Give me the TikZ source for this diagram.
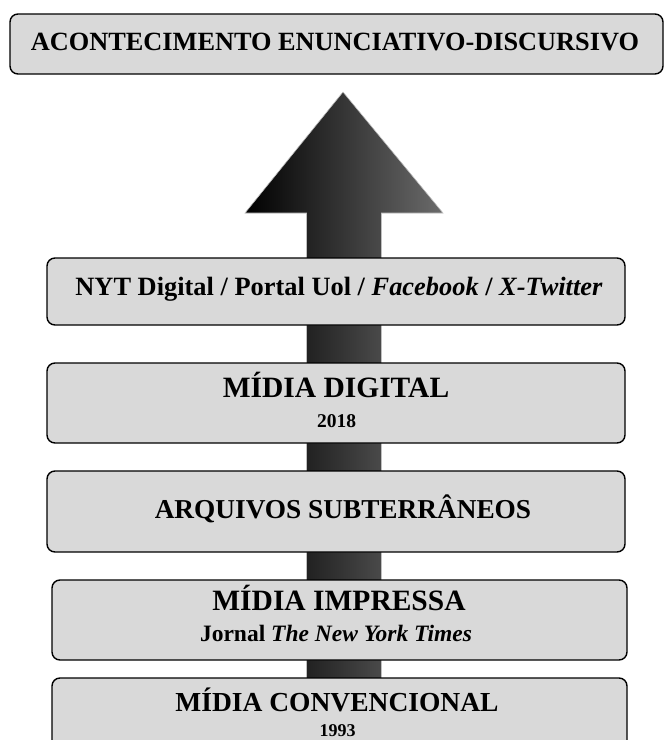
\documentclass[tikz,border=0pt]{standalone}
\usepackage{fontspec}
\setmainfont{Liberation Serif}
\begin{document}
\begin{tikzpicture}[x=1pt,y=-1pt,
  box/.style={draw=black, line width=1.4pt, fill=boxgray, rounded corners=8pt, inner sep=0pt},
  lbl/.style={anchor=base, inner sep=0pt, font=\fontsize{#1}{#1}\selectfont\bfseries},
]
\definecolor{boxgray}{HTML}{D9D9D9}
\useasboundingbox (0,0) rectangle (665,740);
\clip (0,0) rectangle (665,740);
% arrow
\shade[left color=black, right color=black!58, draw=gray!50, line width=0.6pt]
  (306.5,700) -- (306.5,213) -- (245,213) -- (343,92) -- (443,213) -- (381.5,213) -- (381.5,700) -- cycle;
% boxes
\node[box, minimum width=653, minimum height=60] (top) at (336.5,44) {};
\node[lbl=26.3] (toptxt) at (335,50) {ACONTECIMENTO ENUNCIATIVO-DISCURSIVO};
\node[box, minimum width=578, minimum height=67] (nyt) at (336,291.5) {};
\node[lbl=26.4] (nyttxt) at (339,295) {NYT Digital / Portal Uol / \textit{Facebook} / \textit{X-Twitter}};
\node[box, minimum width=578, minimum height=80] (dig) at (336,403) {};
\node[lbl=29.5] (digtxt) at (336,397) {MÍDIA DIGITAL};
\node[lbl=19.5] (digyear) at (336.5,427) {2018};
\node[box, minimum width=578, minimum height=81] (arq) at (336,511.5) {};
\node[lbl=27.3] (arqtxt) at (343,518) {ARQUIVOS SUBTERRÂNEOS};
\node[box, minimum width=575, minimum height=80] (imp) at (339.5,620) {};
\node[lbl=29.5] (imptxt) at (339,610) {MÍDIA IMPRESSA};
\node[lbl=23.5] (impsub) at (336,641.5) {Jornal \textit{The New York Times}};
\node[box, minimum width=575, minimum height=90] (conv) at (339.5,723) {};
\node[lbl=27.5] (convtxt) at (337,711) {MÍDIA CONVENCIONAL};
\node[lbl=18] (convyear) at (337.5,736) {1993};
\end{tikzpicture}
\end{document}
